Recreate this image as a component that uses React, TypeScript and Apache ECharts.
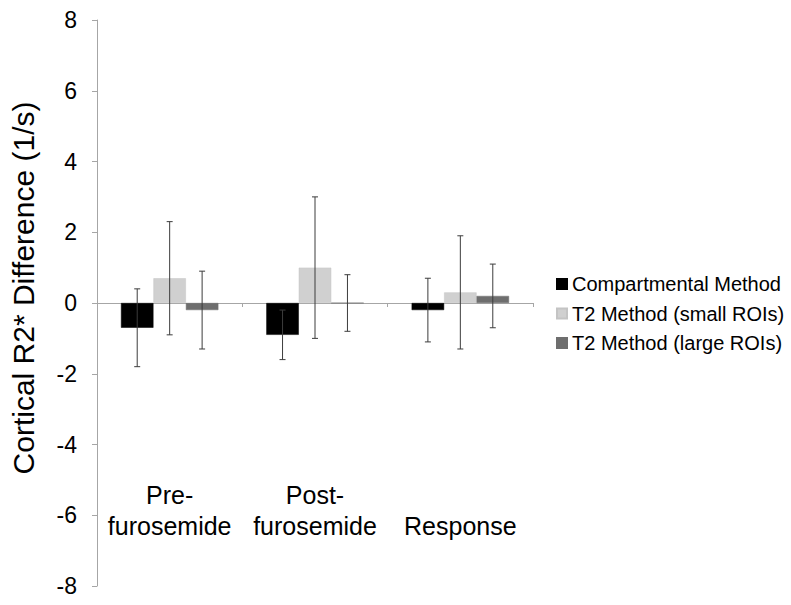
import React, { useEffect, useRef } from "react";
import * as echarts from "echarts";

const categories = ["Pre-\nfurosemide", "Post-\nfurosemide", "Response"];
const seriesNames = ["Compartmental Method", "T2 Method (small ROIs)", "T2 Method (large ROIs)"];
const compartmental = [-0.7, -0.9, -0.2];
const t2Small = [0.7, 1.0, 0.3];
const t2Large = [-0.2, 0.0, 0.2];
const compartmentalErr = [1.1, 0.7, 0.9];
const t2SmallErr = [1.6, 2.0, 1.6];
const t2LargeErr = [1.1, 0.8, 0.9];
const colors = ["#000000", "#d0d0d0", "#6e6e6e"];

export default function App() {
  const ref = useRef<HTMLDivElement>(null);
  useEffect(() => {
    if (!ref.current) return;
    const chart = echarts.init(ref.current, null, { renderer: "svg" });
    const values = [compartmental, t2Small, t2Large];
    const errs = [compartmentalErr, t2SmallErr, t2LargeErr];
    const font = "Liberation Sans, Arial, sans-serif";

    const barSeries = values.map((v, i) => ({
      type: "bar",
      name: seriesNames[i],
      data: v,
      barGap: "0%",
      barCategoryGap: "33%",
      itemStyle: { color: colors[i], borderColor: i === 1 ? "#c4c4c4" : colors[i], borderWidth: 0.5 },
      z: 2,
    }));

    const errSeries = values.map((v, i) => ({
      type: "custom",
      name: seriesNames[i] + " err",
      z: 5,
      data: v.map((val, j) => [j, val, errs[i][j]]),
      renderItem: (params: any, api: any) => {
        const cat = api.value(0);
        const val = api.value(1);
        const e = api.value(2);
        const band = api.size([1, 0])[0];
        const bw = (band * 0.67) / 3;
        const off = (i - 1) * bw;
        const top = api.coord([cat, val + e]);
        const bot = api.coord([cat, val - e]);
        const x = top[0] + off;
        const cap = 3;
        const style = { stroke: "#3c3c3c", lineWidth: 1 };
        return {
          type: "group",
          children: [
            { type: "line", shape: { x1: x, y1: top[1], x2: x, y2: bot[1] }, style },
            { type: "line", shape: { x1: x - cap, y1: top[1], x2: x + cap, y2: top[1] }, style },
            { type: "line", shape: { x1: x - cap, y1: bot[1], x2: x + cap, y2: bot[1] }, style },
          ],
        };
      },
    }));

    chart.setOption({
      animation: false,
      grid: { left: 97, top: 20, right: 258, bottom: 19, containLabel: false, outerBoundsMode: "none" },
      legend: {
        data: seriesNames,
        orient: "vertical",
        left: 551,
        top: 269,
        itemWidth: 10,
        itemHeight: 10,
        itemGap: 9.5,
        icon: "rect",
        textStyle: { fontSize: 20, fontFamily: font, color: "#000", lineHeight: 20 },
      },
      xAxis: {
        type: "category",
        data: categories,
        axisLine: { onZero: true, lineStyle: { color: "#a6a6a6", width: 1 } },
        axisTick: { show: true, length: 4, lineStyle: { color: "#a6a6a6" } },
        axisLabel: {
          interval: 0,
          hideOverlap: false,
          margin: -45,
          verticalAlign: "bottom",
          fontSize: 25,
          lineHeight: 31,
          fontFamily: font,
          color: "#000",
        },
      },
      yAxis: {
        type: "value",
        min: -8,
        max: 8,
        interval: 2,
        name: "Cortical R2* Difference (1/s)",
        nameLocation: "middle",
        nameGap: 59,
        nameTextStyle: { fontSize: 30, fontFamily: font, color: "#000", padding: [0, 0, 0, 30] },
        axisLine: { show: true, lineStyle: { color: "#a6a6a6", width: 1 } },
        axisTick: { show: true, length: 5, lineStyle: { color: "#a6a6a6" } },
        splitLine: { show: false },
        axisLabel: { fontSize: 23, fontFamily: font, color: "#000", margin: 20 },
      },
      series: [...barSeries, ...errSeries],
    });
    return () => chart.dispose();
  }, []);
  return (
    <div
      ref={ref}
      style={{ position: "absolute", left: 0, top: 0, width: 791, height: 605 }}
    />
  );
}
